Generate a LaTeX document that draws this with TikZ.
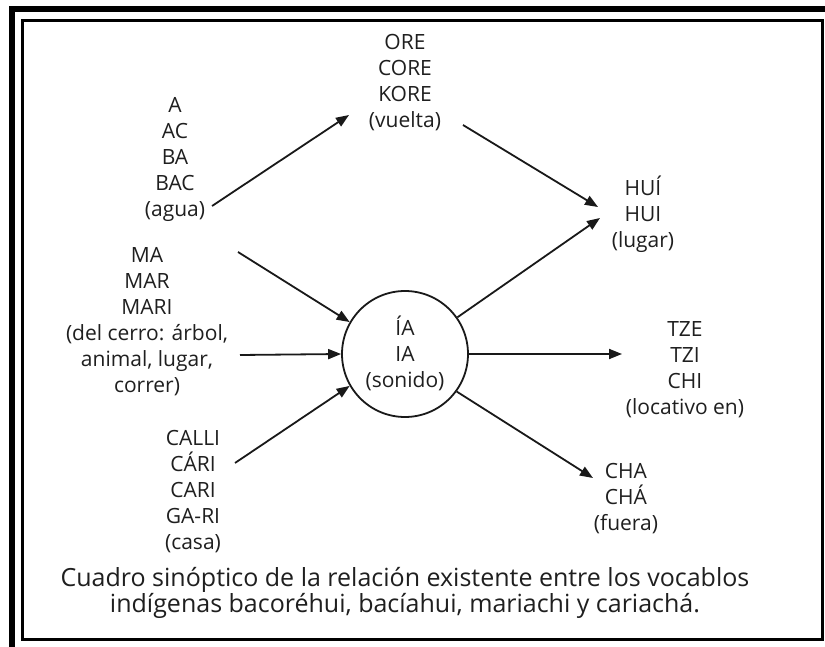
\documentclass[tikz,border=0pt]{standalone}
\usepackage{fontspec}
\setmainfont{Open Sans}
\usetikzlibrary{arrows.meta}
\begin{document}
\begin{tikzpicture}[x=1pt,y=-1pt,
  lbl/.style={align=center, font=\fontsize{21}{26}\selectfont, text=black!88, inner sep=0pt},
  caption/.style={align=center, font=\fontsize{25}{26}\selectfont, text=black!88, inner sep=0pt},
  arr/.style={line width=1.8pt, draw=black!90, -{Triangle[length=13pt,width=10pt]}},
]
\useasboundingbox (0,0) rectangle (825,647);
\fill[white] (0,0) rectangle (825,647);
% frames
\draw[line width=6pt, line join=miter] (12,650) -- (12,9) -- (830,9);
\draw[line width=2.6pt] (22.5,20.5) rectangle (822.5,639.5);
% labels
\node[lbl] (agua) at (175,159) {A\\AC\\BA\\BAC\\(agua)};
\node[lbl] (vuelta) at (405,83) {ORE\\CORE\\KORE\\(vuelta)};
\node[lbl] (mar) at (147,322) {MA\\MAR\\MARI\\(del cerro: árbol,\\animal, lugar,\\correr)};
\node[lbl] (casa) at (193,492) {CALLI\\CÁRI\\CARI\\GA-RI\\(casa)};
\node[draw=black!90, circle, line width=1.8pt, minimum size=126pt, inner sep=0pt] (ia) at (405,354) {};
\node[lbl] (iatext) at (405,353) {ÍA\\IA\\(sonido)};
\node[lbl] (lugar) at (643,214) {HUÍ\\HUI\\(lugar)};
\node[lbl] (tze) at (685,370) {TZE\\TZI\\CHI\\(locativo en)};
\node[lbl] (fuera) at (626,499) {CHA\\CHÁ\\(fuera)};
\node[caption] (cap) at (405,593) {Cuadro sinóptico de la relación existente entre los vocablos\\indígenas bacoréhui, bacíahui, mariachi y cariachá.};
% connector ends
\coordinate (aguaout) at (212,206);
\coordinate (vueltain) at (349,115);
\coordinate (vueltaout) at (463,125);
\coordinate (lugarin1) at (598,207);
\coordinate (lugarin2) at (600,218);
\coordinate (marout1) at (238,252);
\coordinate (marout2) at (240,355);
\coordinate (casaout) at (235,463);
\coordinate (tzein) at (622,354);
\coordinate (fuerain) at (593,478);
% arrows
\draw[arr] (aguaout) -- (vueltain);
\draw[arr] (vueltaout) -- (lugarin1);
\draw[arr] (marout1) -- (ia.150);
\draw[arr] (marout2) -- (ia.180);
\draw[arr] (casaout) -- (ia.210);
\draw[arr] (ia.35) -- (lugarin2);
\draw[arr] (ia.0) -- (tzein);
\draw[arr] (ia.324) -- (fuerain);
\end{tikzpicture}
\end{document}
